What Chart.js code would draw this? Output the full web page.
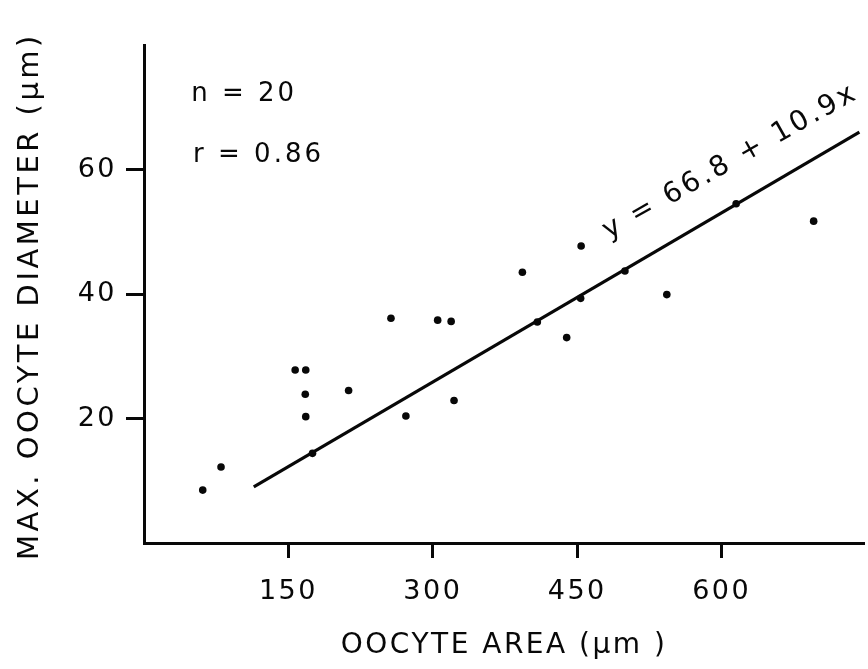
<!DOCTYPE html>
<html>
<head>
<meta charset="utf-8">
<script src="https://cdn.jsdelivr.net/npm/chart.js@4.4.1/dist/chart.umd.min.js"></script>
<style>
html,body{margin:0;padding:0;background:#ffffff;}
canvas{display:block;}
</style>
</head>
<body>
<canvas id="c" width="868" height="669" style="width:868px;height:669px"></canvas>
<script>
// Oocyte area (x) vs max. oocyte diameter (y)
const areaX = [61, 80, 157, 168, 167.5, 168, 212.5, 175, 256.5, 305, 319, 322, 272, 393, 454, 408.5, 453.5, 439, 499.5, 543, 615, 695.5];
const diamY = [8.5, 12.2, 27.8, 27.8, 23.9, 20.3, 24.5, 14.4, 36.1, 35.8, 35.6, 22.9, 20.4, 43.5, 47.7, 35.5, 39.3, 33.0, 43.7, 39.9, 54.5, 51.7];

// Regression line end points (data units)
const fitX = [114, 743];
const fitY = [9.0, 66.0];

// Axis ticks
const xTicks = [150, 300, 450, 600];
const yTicks = [20, 40, 60];

// Texts
const xTitle = 'OOCYTE AREA (μm )';
const yTitle = 'MAX. OOCYTE DIAMETER (μm)';
const statLabels = ['n = 20', 'r = 0.86'];
const equation = 'y = 66.8 + 10.9x';

const FONT = '"DejaVu Sans", "Liberation Sans", Arial, sans-serif';
const INK = '#080808';

const pointData = areaX.map((v, i) => ({x: v, y: diamY[i]}));
const lineData = fitX.map((v, i) => ({x: v, y: fitY[i]}));

const textPlugin = {
  id: 'figText',
  beforeDraw(chart) {
    chart.ctx.letterSpacing = '2.5px';
  },
  afterDraw(chart) {
    const {ctx, scales: {x, y}} = chart;
    ctx.save();
    ctx.fillStyle = INK;
    ctx.letterSpacing = '3px';
    ctx.font = '26px ' + FONT;
    ctx.textAlign = 'left';
    ctx.textBaseline = 'alphabetic';
    ctx.fillText(statLabels[0], x.getPixelForValue(49), y.getPixelForValue(71));
    ctx.fillText(statLabels[1], x.getPixelForValue(51), y.getPixelForValue(61.2));
    ctx.restore();

    ctx.save();
    ctx.fillStyle = INK;
    ctx.letterSpacing = '3px';
    ctx.font = '28px ' + FONT;
    ctx.translate(x.getPixelForValue(609), y.getPixelForValue(61.2));
    ctx.rotate(-29.5 * Math.PI / 180);
    ctx.textAlign = 'center';
    ctx.textBaseline = 'middle';
    ctx.fillText(equation, 0, 0);
    ctx.restore();

    // y axis title
    ctx.save();
    ctx.fillStyle = INK;
    ctx.letterSpacing = '3.5px';
    ctx.font = '29px ' + FONT;
    ctx.translate(30, (chart.chartArea.top + chart.chartArea.bottom) / 2 + 2);
    ctx.rotate(-Math.PI / 2);
    ctx.textAlign = 'center';
    ctx.textBaseline = 'middle';
    ctx.fillText(yTitle, 0, 0);
    ctx.restore();
  }
};

new Chart(document.getElementById('c'), {
  type: 'scatter',
  data: {
    datasets: [
      {
        label: 'oocytes',
        data: pointData,
        showLine: false,
        pointRadius: 3.8,
        pointHoverRadius: 3.8,
        pointBackgroundColor: INK,
        pointBorderWidth: 0,
        borderColor: INK
      },
      {
        label: 'fit',
        data: lineData,
        showLine: true,
        pointRadius: 0,
        borderColor: INK,
        borderWidth: 3.2,
        fill: false
      }
    ]
  },
  options: {
    responsive: false,
    animation: false,
    devicePixelRatio: 1,
    layout: {padding: {top: 45, right: 0, bottom: 0, left: 0}},
    plugins: {
      legend: {display: false},
      tooltip: {enabled: false},
      title: {display: false}
    },
    scales: {
      x: {
        type: 'linear',
        position: 'bottom',
        min: 0,
        max: 748,
        afterBuildTicks: s => { s.ticks = xTicks.map(v => ({value: v})); },
        afterFit: s => { s.height = 126; },
        border: {display: true, color: INK, width: 3},
        grid: {drawOnChartArea: false, drawTicks: true, tickLength: 15, tickWidth: 3, tickColor: INK, color: INK},
        ticks: {color: INK, font: {family: FONT, size: 27}, padding: 18, maxRotation: 0, autoSkip: false},
        title: {display: true, text: xTitle, color: INK, font: {family: FONT, size: 28}, padding: {top: 0, bottom: 6}}
      },
      y: {
        type: 'linear',
        position: 'left',
        min: 0,
        max: 80,
        afterBuildTicks: s => { s.ticks = yTicks.map(v => ({value: v})); },
        afterFit: s => { s.width = 144; },
        border: {display: true, color: INK, width: 3},
        grid: {drawOnChartArea: false, drawTicks: true, tickLength: 18, tickWidth: 3, tickColor: INK, color: INK},
        ticks: {color: INK, font: {family: FONT, size: 27}, padding: 9, autoSkip: false},
        title: {display: false}
      }
    }
  },
  plugins: [textPlugin]
});
</script>
</body>
</html>
